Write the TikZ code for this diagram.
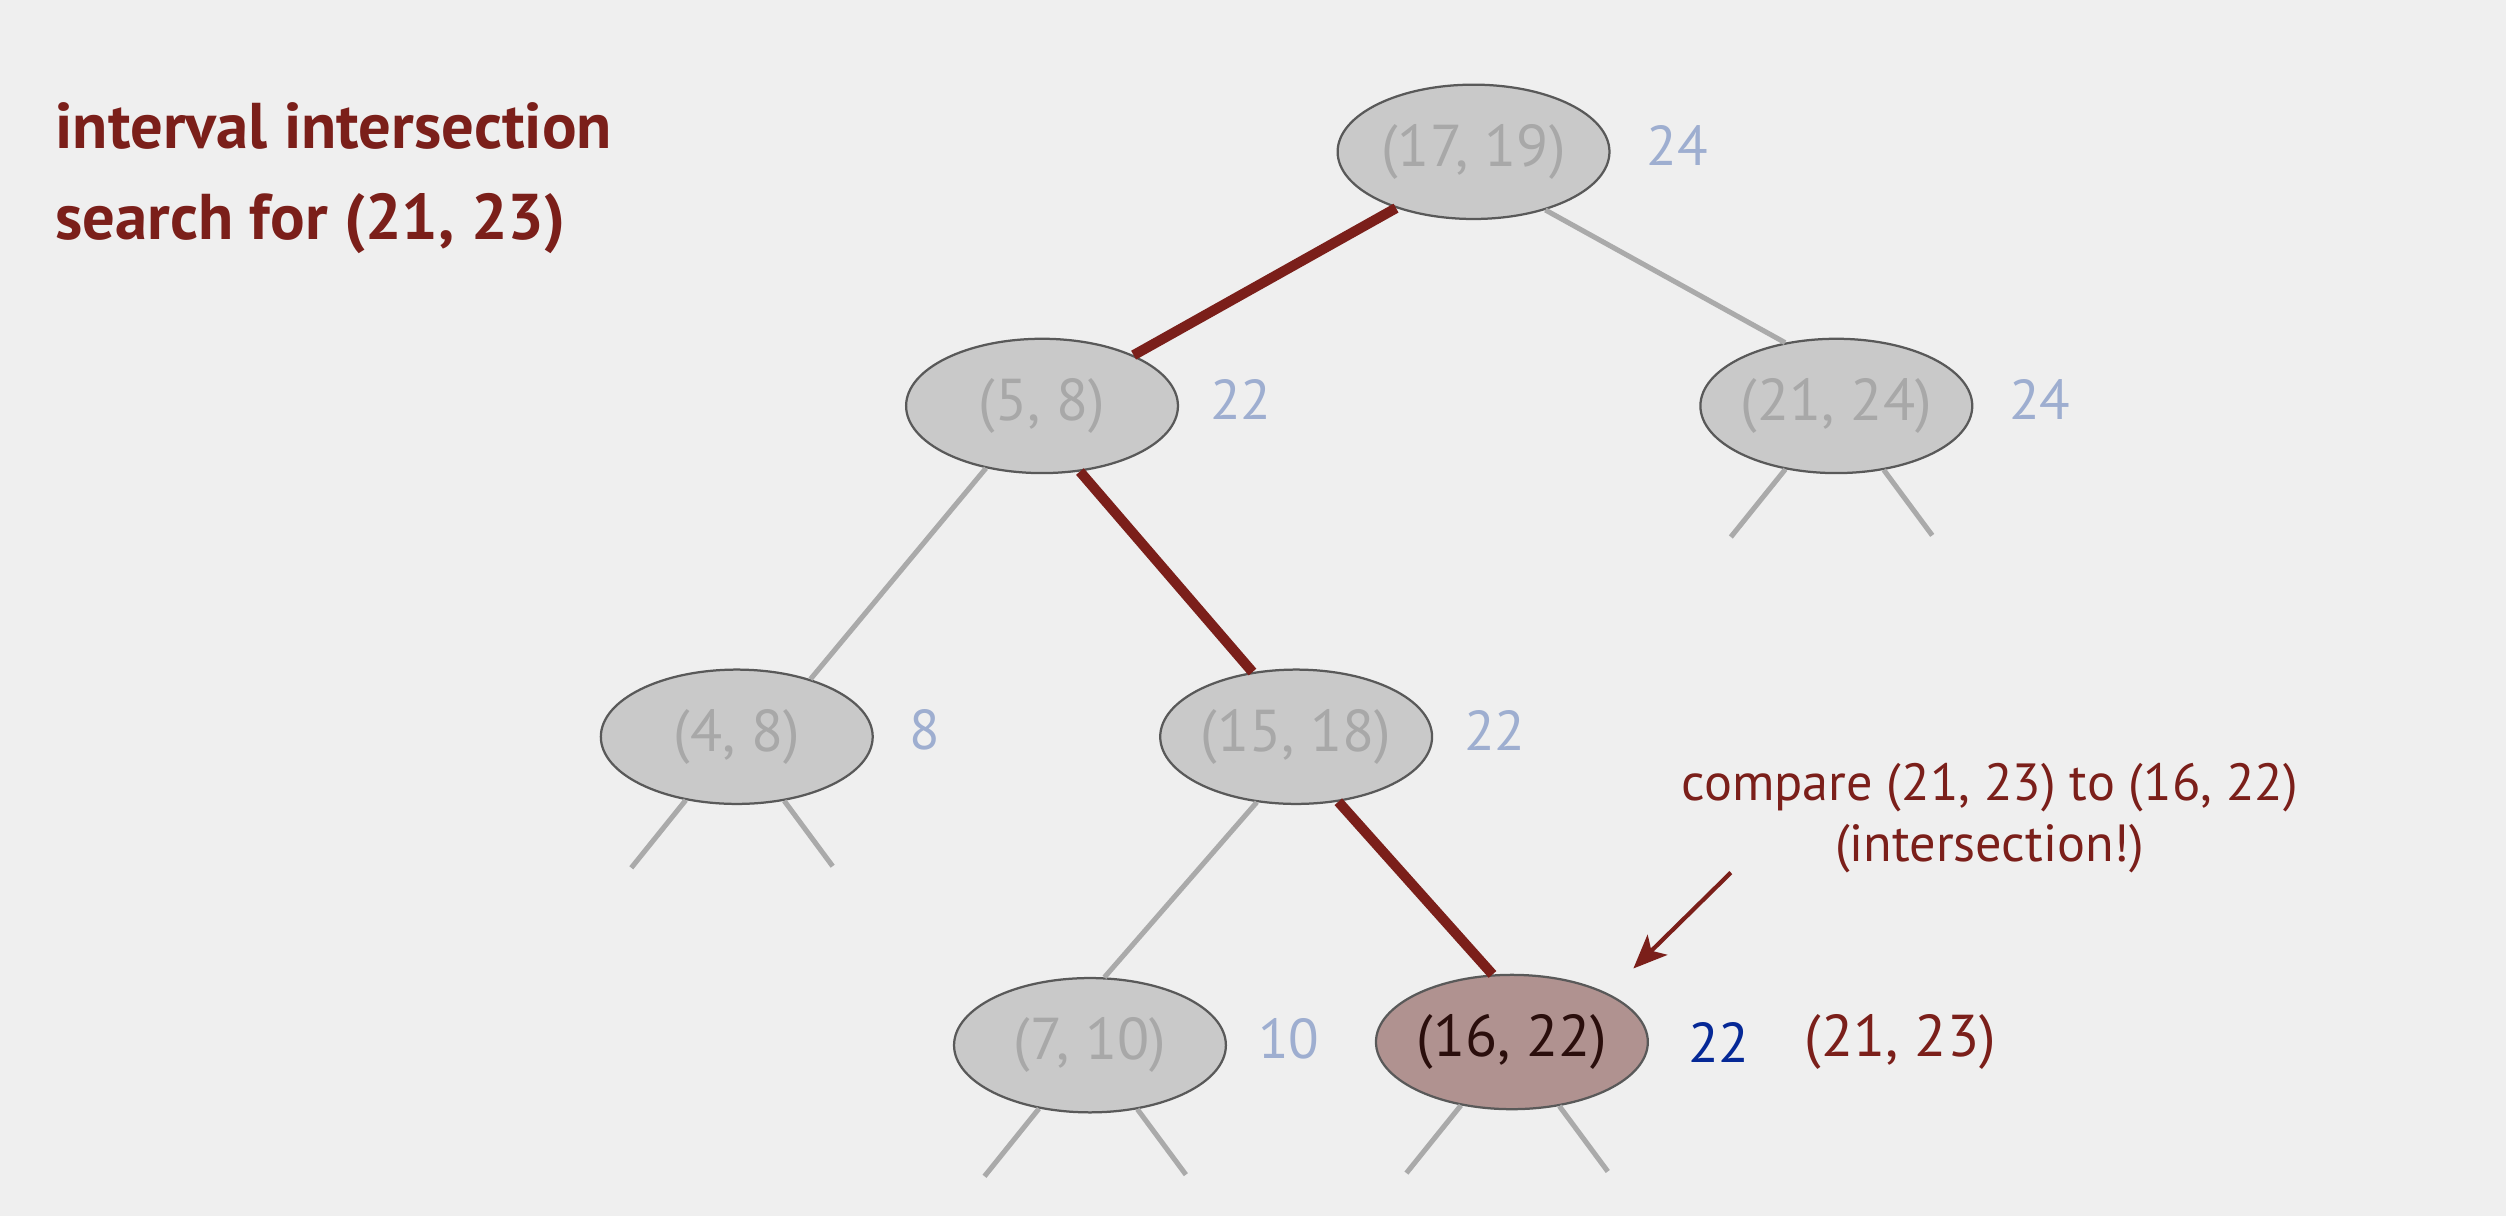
\documentclass[tikz,border=0pt]{standalone}
\usepackage{fontspec}
\setmainfont{PT Sans}
\usepackage{xcolor}
\usepackage{tikz}
\usetikzlibrary{shapes,arrows,arrows.meta,positioning,backgrounds}
\definecolor{bg}{RGB}{239,239,239}
\definecolor{nodefill}{RGB}{201,201,201}
\definecolor{nodetext}{RGB}{168,168,168}
\definecolor{maxblue}{RGB}{158,174,208}
\definecolor{darkred}{RGB}{123,31,26}
\definecolor{hitfill}{RGB}{176,146,144}
\definecolor{hittext}{RGB}{42,14,12}
\definecolor{darkblue}{RGB}{5,40,150}
\definecolor{edgegray}{RGB}{170,170,170}
\begin{document}
\begin{tikzpicture}[x=0.01cm,y=-0.01cm,show background rectangle,inner frame sep=0pt,background rectangle/.style={fill=bg},
  tnode/.style={ellipse,draw=black!65,line width=0.4pt,fill=nodefill,text=nodetext,inner sep=0pt,minimum width=1.7cm,minimum height=0.84cm,font=\fontsize{10.5}{12}\selectfont},
  maxval/.style={text=maxblue,yshift=1.2pt,font=\fontsize{10}{12}\selectfont},
  heading/.style={anchor=base west,inner sep=0pt,text=darkred,font=\fontsize{11.5}{13}\selectfont\bfseries},
  link/.style={edgegray,line width=0.9pt},
  hit/.style={darkred,line width=1.8pt}]
\useasboundingbox (0,0) rectangle (1568,761);
\node[heading] (title) at (34,93) {interval intersection};
\node[heading] (query) at (34,150) {search for (21, 23)};
\node[tnode] (n1719) at (922,95) {(17, 19)};
\node[tnode] (n58) at (652,254) {(5, 8)};
\node[tnode] (n2124) at (1149,254) {(21, 24)};
\node[tnode] (n48) at (461,461) {(4, 8)};
\node[tnode] (n1518) at (811,461) {(15, 18)};
\node[tnode] (n710) at (682,654) {(7, 10)};
\node[tnode,fill=hitfill,text=hittext] (n1622) at (946,652) {(16, 22)};
\node[maxval,right=0.1cm of n1719] (m1719) {24};
\node[maxval,right=0.07cm of n58] (m58) {22};
\node[maxval,right=0.1cm of n2124] (m2124) {24};
\node[maxval,right=0.1cm of n48] (m48) {8};
\node[maxval,right=0.07cm of n1518] (m1518) {22};
\node[maxval,right=0.07cm of n710] (m710) {10};
\node[maxval,text=darkblue,yshift=-1.2pt,right=0.12cm of n1622] (m1622) {22};
\node[text=darkred,right=0.1cm of m1622,font=\fontsize{10.5}{12}\selectfont] (cur) {(21, 23)};
\node[text=darkred,align=center,font=\fontsize{9.3}{10.8}\selectfont] (note) at (1245,512) {compare (21, 23) to (16, 22)\\(intersection!)};
\draw[hit] (n1719.216) -- (n58.29);
\draw[link] (n1719.-39) -- (n2124.129);
\draw[link] (n58.-132) -- (n48.38);
\draw[hit] (n58.-60) -- (n1518.124);
\draw[link] (n1518.-121) -- (n710.78);
\draw[hit] (n1518.-57) -- (n1622.106);
\foreach \n in {n2124,n48,n710,n1622}{
  \path (\n.center) ++(-66,82) coordinate (\n-l) (\n.center) ++(60,81) coordinate (\n-r);
  \draw[link] (\n) -- (\n-l);
  \draw[link] (\n) -- (\n-r);
}
\coordinate (ctail) at (1083,546);
\coordinate (chead) at (1022,606);
\draw[darkred,line width=0.75pt,-{Stealth[length=6pt,width=5pt,inset=1.5pt]}] (ctail) -- (chead);
\end{tikzpicture}
\end{document}
